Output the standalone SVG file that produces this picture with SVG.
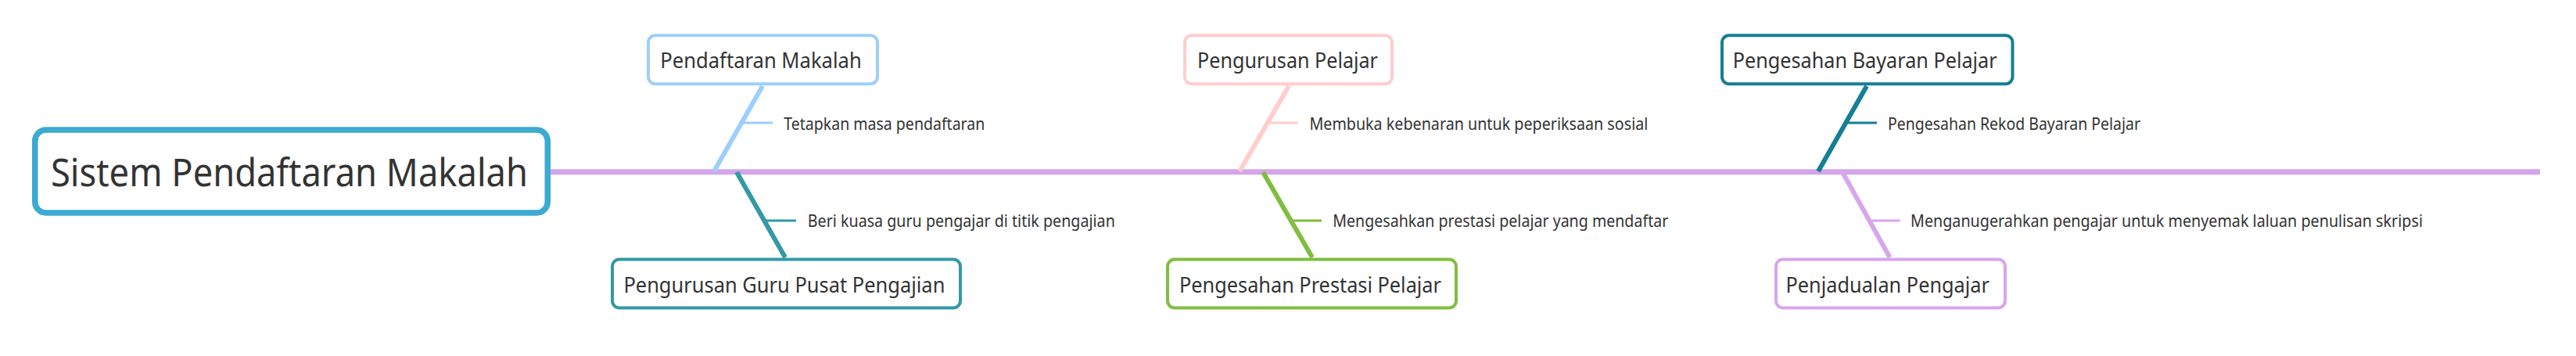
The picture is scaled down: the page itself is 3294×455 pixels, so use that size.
<svg xmlns="http://www.w3.org/2000/svg" width="3294" height="455" viewBox="0 0 3294 455">
<style>
text{font-family:"Noto Sans","Open Sans","Liberation Sans",sans-serif;fill:#333333;}
.root{font-size:50px;}
.main{font-size:28px;}
.sub{font-size:21px;}
.box{fill:#ffffff;stroke-width:4;}
.bone{stroke-width:6;fill:none;}
.twig{stroke-width:3;fill:none;}
</style>
<rect width="3294" height="455" fill="#ffffff"/>
<g id="connectors">
  <line x1="700" y1="219.7" x2="3248" y2="219.7" stroke="#D4A5E9" stroke-width="7"/>
  <line class="bone" x1="975" y1="110" x2="913" y2="219" stroke="#9ECEFD"/>
  <line class="twig" x1="948.6" y1="157" x2="988" y2="157" stroke="#9ECEFD"/>
  <line class="bone" x1="942" y1="220" x2="1004" y2="329" stroke="#3399A5"/>
  <line class="twig" x1="977.6" y1="282" x2="1018" y2="282" stroke="#3399A5"/>
  <line class="bone" x1="1648" y1="110" x2="1585" y2="219" stroke="#FFCDCC"/>
  <line class="twig" x1="1621.6" y1="157" x2="1660" y2="157" stroke="#FFCDCC"/>
  <line class="bone" x1="1615" y1="220" x2="1678" y2="329" stroke="#80BD41"/>
  <line class="twig" x1="1650.6" y1="282" x2="1690" y2="282" stroke="#80BD41"/>
  <line class="bone" x1="2387" y1="110" x2="2325" y2="219" stroke="#147F95"/>
  <line class="twig" x1="2360.6" y1="157" x2="2400" y2="157" stroke="#147F95"/>
  <line class="bone" x1="2356" y1="220" x2="2416.5" y2="329" stroke="#D7A6EC"/>
  <line class="twig" x1="2391.6" y1="282" x2="2429.5" y2="282" stroke="#D7A6EC"/>
</g>
<g id="root">
  <rect x="44.75" y="166" width="655.5" height="106" rx="14" fill="#ffffff" stroke="#3CAAD1" stroke-width="7.5"/>
  <text class="root" x="65" y="238" textLength="610" lengthAdjust="spacingAndGlyphs">Sistem Pendaftaran Makalah</text>
</g>
<g id="node-pendaftaran-makalah">
  <rect class="box" x="829" y="45.3" width="293" height="62" rx="9" stroke="#9ECEFD"/>
  <text class="main" x="844.3" y="87.3" textLength="257.4" lengthAdjust="spacingAndGlyphs">Pendaftaran Makalah</text>
</g>
<g id="sub-tetapkan">
  <text class="sub" x="1002.3" y="166" textLength="257" lengthAdjust="spacingAndGlyphs">Tetapkan masa pendaftaran</text>
</g>
<g id="node-pengurusan-guru">
  <rect class="box" x="783" y="331.5" width="445" height="62" rx="9" stroke="#3399A5"/>
  <text class="main" x="797.4" y="374" textLength="411" lengthAdjust="spacingAndGlyphs">Pengurusan Guru Pusat Pengajian</text>
</g>
<g id="sub-beri-kuasa">
  <text class="sub" x="1032.8" y="290" textLength="393" lengthAdjust="spacingAndGlyphs">Beri kuasa guru pengajar di titik pengajian</text>
</g>
<g id="node-pengurusan-pelajar">
  <rect class="box" x="1515" y="45.3" width="265" height="62" rx="9" stroke="#FFCDCC"/>
  <text class="main" x="1531" y="87.3" textLength="231" lengthAdjust="spacingAndGlyphs">Pengurusan Pelajar</text>
</g>
<g id="sub-membuka">
  <text class="sub" x="1674.4" y="166" textLength="433" lengthAdjust="spacingAndGlyphs">Membuka kebenaran untuk peperiksaan sosial</text>
</g>
<g id="node-pengesahan-prestasi">
  <rect class="box" x="1493" y="331.5" width="369" height="62" rx="9" stroke="#80BD41"/>
  <text class="main" x="1508" y="374" textLength="335" lengthAdjust="spacingAndGlyphs">Pengesahan Prestasi Pelajar</text>
</g>
<g id="sub-mengesahkan">
  <text class="sub" x="1704.3" y="290" textLength="429" lengthAdjust="spacingAndGlyphs">Mengesahkan prestasi pelajar yang mendaftar</text>
</g>
<g id="node-pengesahan-bayaran">
  <rect class="box" x="2202" y="45.3" width="371.5" height="62" rx="9" stroke="#147F95"/>
  <text class="main" x="2215.7" y="87.3" textLength="338" lengthAdjust="spacingAndGlyphs">Pengesahan Bayaran Pelajar</text>
</g>
<g id="sub-rekod">
  <text class="sub" x="2414" y="166" textLength="323" lengthAdjust="spacingAndGlyphs">Pengesahan Rekod Bayaran Pelajar</text>
</g>
<g id="node-penjadualan">
  <rect class="box" x="2271" y="331.5" width="293" height="62" rx="9" stroke="#D7A6EC"/>
  <text class="main" x="2283.5" y="374" textLength="260.5" lengthAdjust="spacingAndGlyphs">Penjadualan Pengajar</text>
</g>
<g id="sub-menganugerahkan">
  <text class="sub" x="2443" y="290" textLength="655" lengthAdjust="spacingAndGlyphs">Menganugerahkan pengajar untuk menyemak laluan penulisan skripsi</text>
</g>
</svg>
